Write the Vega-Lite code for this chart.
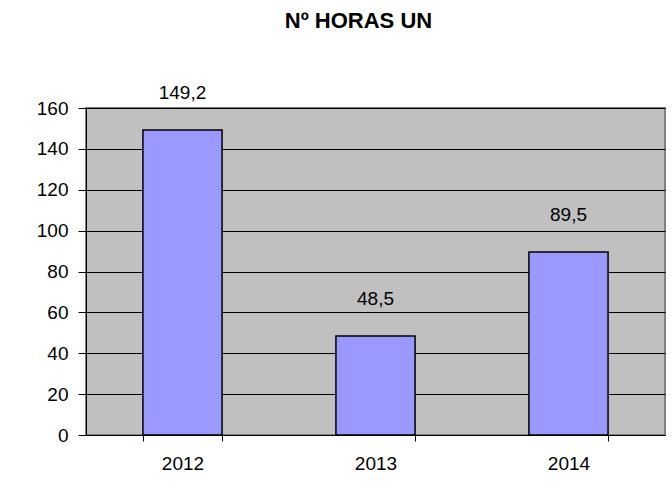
{
  "$schema": "https://vega.github.io/schema/vega-lite/v6.json",
  "autosize": "none",
  "width": 579,
  "height": 327,
  "padding": {"left": 86, "top": 108, "right": 7, "bottom": 67},
  "background": "white",
  "title": {
    "text": "Nº HORAS UN",
    "font": "Liberation Sans",
    "fontSize": 22,
    "fontWeight": "bold",
    "color": "black",
    "anchor": "middle",
    "dx": -17,
    "offset": 51
  },
  "data": {
    "values": [
      {"year": "2012", "horas": 149.2},
      {"year": "2013", "horas": 48.5},
      {"year": "2014", "horas": 89.5}
    ]
  },
  "encoding": {
    "x": {
      "field": "year",
      "type": "nominal",
      "scale": {"paddingInner": 0.59, "paddingOuter": 0.295},
      "axis": {
        "title": null,
        "labelAngle": 0,
        "labelFont": "Liberation Sans",
        "labelFontSize": 19,
        "labelColor": "black",
        "labelPadding": 13,
        "domainColor": "black",
        "tickColor": "black",
        "tickSize": 6,
        "tickBand": "extent",
        "grid": false
      }
    },
    "y": {
      "field": "horas",
      "type": "quantitative",
      "scale": {"domain": [0, 160], "nice": false},
      "axis": {
        "title": null,
        "values": [0, 20, 40, 60, 80, 100, 120, 140, 160],
        "labelFont": "Liberation Sans",
        "labelFontSize": 19,
        "labelColor": "black",
        "labelPadding": 10,
        "domainColor": "black",
        "tickColor": "black",
        "tickSize": 8,
        "grid": true,
        "gridColor": "black",
        "gridOpacity": 1,
        "format": "d"
      }
    }
  },
  "layer": [
    {
      "mark": {"type": "bar", "color": "#9999FF", "stroke": "black", "strokeWidth": 1.5}
    },
    {
      "mark": {"type": "text", "baseline": "bottom", "dy": -27, "font": "Liberation Sans", "fontSize": 19, "color": "black"},
      "encoding": {
        "text": {"field": "horas", "type": "quantitative", "format": ".1f"}
      }
    }
  ],
  "config": {
    "locale": {
      "number": {"decimal": ",", "thousands": ".", "grouping": [3], "currency": ["", " €"]}
    },
    "view": {"fill": "#C0C0C0", "stroke": "#808080", "strokeWidth": 2}
  }
}
